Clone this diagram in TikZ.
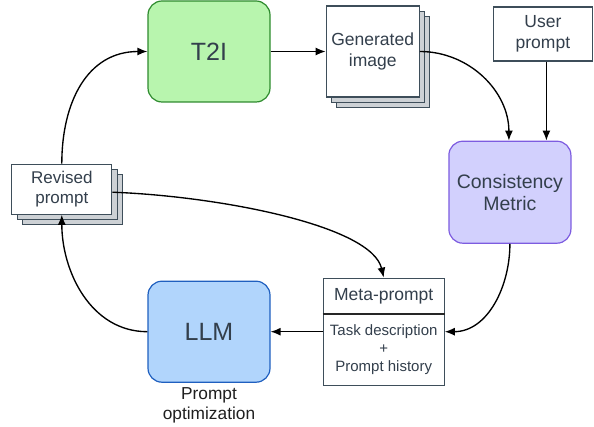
\documentclass[tikz,border=0pt]{standalone}
\usepackage{fontspec}
\setmainfont{Liberation Sans}
\usetikzlibrary{positioning}
\usetikzlibrary{shadows}
\usetikzlibrary{arrows.meta}

\definecolor{ink}{HTML}{333F4C}
\definecolor{edge}{HTML}{3E4E5A}
\definecolor{sheet}{HTML}{CDD1D5}
\definecolor{tfill}{HTML}{B8F5AE}
\definecolor{tline}{HTML}{2E8B2E}
\definecolor{mfill}{HTML}{D2D0FD}
\definecolor{mline}{HTML}{7D5CE0}
\definecolor{lfill}{HTML}{B1D5FC}
\definecolor{lline}{HTML}{1F5FBF}

\tikzset{
  block/.style={draw, rounded corners=14pt, line width=1.2pt, minimum width=122pt, minimum height=101pt, text=ink, align=center},
  paper/.style={draw=edge, fill=white, line width=1.2pt, text=ink, align=center, inner sep=0pt, font=\fontsize{17.5}{21}\selectfont},
  stack/.style={paper,
    copy shadow={shadow xshift=10.6pt, shadow yshift=-10.6pt, fill=sheet, draw=edge, line width=1.2pt},
    copy shadow={shadow xshift=5.3pt, shadow yshift=-5.3pt, fill=sheet, draw=edge, line width=1.2pt}},
  flow/.style={-{Latex[length=10pt,width=8pt]}, line width=1.35pt},
}

\begin{document}
\begin{tikzpicture}[x=1pt, y=1pt]

    \useasboundingbox (0,0) rectangle (594,-427);

    \node(t2i)[block, fill=tfill, draw=tline, font=\fontsize{25}{30}\selectfont] at (209,-51.5){T2I};
    \node(llm)[block, fill=lfill, draw=lline, font=\fontsize{25}{30}\selectfont, below=178pt of t2i]{LLM};
    \node(gen)[stack, minimum width=93pt, minimum height=91pt, right=55pt of t2i]{Generated\\image};
    \node(user)[paper, minimum width=99pt, minimum height=54pt, right=73pt of gen, yshift=17.5pt]{User\\prompt};
    \node(metric)[block, fill=mfill, draw=mline, minimum height=102pt, font=\fontsize{19.5}{22}\selectfont, below=79pt of user, xshift=-33pt]{Consistency\\Metric};
    \node(revised)[stack, minimum width=100pt, minimum height=50pt, font=\fontsize{17}{20}\selectfont, below left=61pt and 35pt of t2i]{Revised\\prompt};

    \node(meta)[paper, minimum width=121pt, minimum height=107pt, right=52pt of llm]{};
    \node(metahead)[text=ink, inner sep=0pt, minimum height=36pt, font=\fontsize{17.5}{21}\selectfont, below=0pt of meta.north]{Meta-prompt};
    \node(metabody)[text=ink, inner sep=0pt, minimum height=71pt, align=center, font=\fontsize{15}{18}\selectfont, above=0pt of meta.south]{Task description\\+\\Prompt history};
    \draw[line width=1.6pt, black!85] (metahead.south -| meta.west) -- (metahead.south -| meta.east);

    \node(caption)[below=1pt of llm, align=center, text=black!88, font=\fontsize{17.3}{20}\selectfont]{Prompt\\optimization};

    \draw[flow] (t2i) -- (gen);
    \draw[flow] (gen.east) to[out=0, in=90] ([xshift=-1pt]metric.north);
    \draw[flow] ([xshift=3.5pt]user.south) -- ([xshift=3.5pt]user.south |- metric.north);
    \draw[flow] (metric.south) to[out=-90, in=0] (meta.east);
    \draw[flow] (meta) -- (llm);
    \draw[flow] (llm.west) to[out=180, in=-90] (revised.south);
    \draw[flow] (revised.north) to[out=90, in=180, looseness=1.1] (t2i.west);
    \draw[flow] ([yshift=-3pt]revised.east) .. controls +(107,-4) and +(-12,52) .. (meta.north);

\end{tikzpicture}
\end{document}
